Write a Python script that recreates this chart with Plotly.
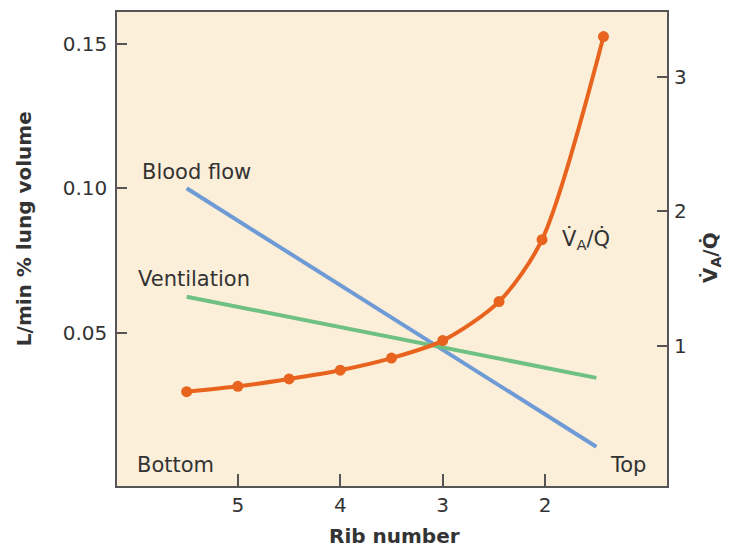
import plotly.graph_objects as go

# Rib positions and values
rib_lines = [5.5, 1.5]
blood_flow = [0.100, 0.0106]
ventilation = [0.0625, 0.0344]

rib_vaq = [5.5, 5.0, 4.5, 4.0, 3.5, 3.0, 2.45, 2.03, 1.43]
vaq = [0.66, 0.70, 0.755, 0.82, 0.91, 1.04, 1.33, 1.79, 3.30]

x_ticks = [5, 4, 3, 2]
left_ticks = [0.05, 0.10, 0.15]
left_tick_text = ['0.05', '0.10', '0.15']
right_ticks = [1, 2, 3]

font = 'DejaVu Sans, Liberation Sans, sans-serif'
axis_color = '#555555'
text_color = '#333333'
tick_size = 20
label_size = 21

fig = go.Figure()

# Blood flow (left axis)
fig.add_trace(go.Scatter(
    x=rib_lines, y=blood_flow, mode='lines',
    line=dict(color='#6e9bd6', width=4),
    showlegend=False
))

# Ventilation (left axis)
fig.add_trace(go.Scatter(
    x=rib_lines, y=ventilation, mode='lines',
    line=dict(color='#6fc083', width=4),
    showlegend=False
))

# VA/Q ratio (right axis)
fig.add_trace(go.Scatter(
    x=rib_vaq, y=vaq, mode='lines+markers', yaxis='y2',
    line=dict(color='#e8641e', width=4, shape='spline', smoothing=0.8),
    marker=dict(color='#e8641e', size=11),
    showlegend=False
))

# page body has an 8px margin, so the figure is a bit smaller than the window
fig.update_layout(
    width=722, height=541,
    margin=dict(l=109, r=63, t=4, b=63),
    paper_bgcolor='white',
    plot_bgcolor='#fcefd9',
    font=dict(family=font, size=tick_size, color=text_color),
    xaxis=dict(
        range=[6.18, 0.81],
        tickvals=x_ticks,
        ticks='inside', ticklen=12, tickcolor=axis_color, tickwidth=1.5,
        showline=True, linecolor=axis_color, linewidth=1.5, mirror=True,
        showgrid=False, zeroline=False, automargin=False,
        ticklabelstandoff=0,
    ),
    yaxis=dict(
        range=[-0.003, 0.161],
        tickvals=left_ticks, ticktext=left_tick_text,
        ticks='inside', ticklen=10, tickcolor=axis_color, tickwidth=1.5,
        showline=True, linecolor=axis_color, linewidth=1.5, mirror=True,
        showgrid=False, zeroline=False, automargin=False,
        ticklabelstandoff=4,
    ),
    yaxis2=dict(
        range=[-0.041, 3.483],
        overlaying='y', side='right',
        tickvals=right_ticks,
        ticks='inside', ticklen=10, tickcolor=axis_color, tickwidth=1.5,
        showline=False, showgrid=False, zeroline=False, automargin=False,
        ticklabelstandoff=6,
    ),
)

# Axis titles
fig.add_annotation(text='<b>Rib number</b>', x=0.504, y=-0.105,
                   xref='paper', yref='paper', showarrow=False,
                   xanchor='center', yanchor='middle')
fig.add_annotation(text='<b>L/min % lung volume</b>', x=-0.169, y=0.542,
                   xref='paper', yref='paper', showarrow=False, textangle=-90,
                   xanchor='center', yanchor='middle')
fig.add_annotation(text='<b>V\u0307<sub>A</sub>/Q\u0307</b>', x=1.08, y=0.481,
                   xref='paper', yref='paper', showarrow=False, textangle=-90,
                   xanchor='center', yanchor='middle')

# Curve labels
labels = [
    ('Blood flow', 0.042, 0.662, 'left'),
    ('Ventilation', 0.035, 0.437, 'left'),
    ('Bottom', 0.033, 0.044, 'left'),
    ('Top', 0.965, 0.044, 'right'),
    ('V\u0307<sub>A</sub>/Q\u0307', 0.805, 0.519, 'left'),
]
for text, x, y, anchor in labels:
    fig.add_annotation(
        text=text, x=x, y=y, xref='paper', yref='paper',
        xanchor=anchor, yanchor='middle', showarrow=False,
        font=dict(family=font, size=label_size, color=text_color)
    )

fig.write_html("out.html")
